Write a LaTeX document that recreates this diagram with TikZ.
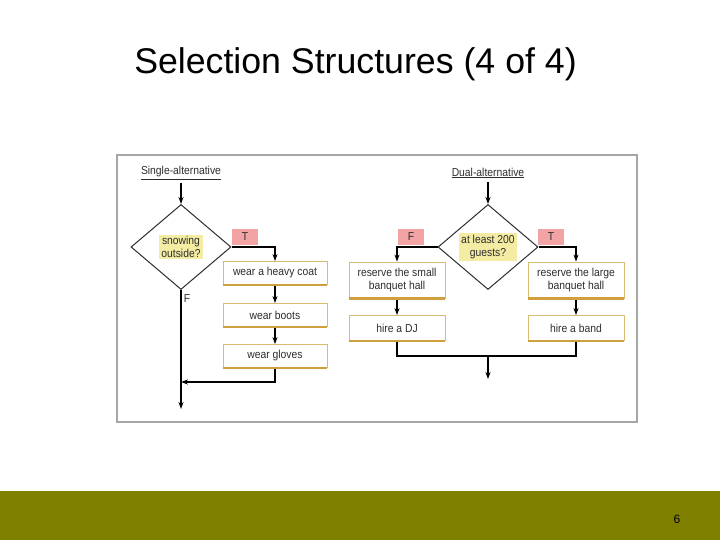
\documentclass[tikz,border=0pt]{standalone}
\usepackage{fontspec}
\setmainfont{Liberation Sans}
\newfontfamily\chartfont[FakeStretch=0.9]{Liberation Sans}
\usetikzlibrary{shapes.geometric, arrows.meta, positioning, calc}
\definecolor{slideOlive}{HTML}{808000}
\definecolor{frameGray}{HTML}{A6A6A6}
\definecolor{boxEdge}{HTML}{D8BC74}
\definecolor{boxFoot}{HTML}{CF9F3E}
\definecolor{condYellow}{HTML}{F4ECA2}
\definecolor{tfPink}{HTML}{F2A3A3}
\definecolor{inkGray}{HTML}{2E2E2E}

\begin{document}
\begin{tikzpicture}[x=1pt, y=-1pt,
  every node/.style={font=\chartfont\fontsize{11.5}{12.5}\selectfont, text=inkGray},
  act/.style={draw=boxEdge, line width=0.8pt, fill=white, align=center,
    minimum width=104pt, minimum height=23pt, inner sep=1pt},
  wideact/.style={act, minimum width=96pt, minimum height=36pt},
  slimact/.style={act, minimum width=96pt, minimum height=25pt},
  cond/.style={diamond, draw=inkGray, line width=1pt, minimum width=100pt,
    minimum height=85pt, inner sep=0pt},
  condtxt/.style={fill=condYellow, align=center, inner sep=2pt},
  tflab/.style={fill=tfPink, minimum width=26pt, minimum height=16pt, inner sep=0pt},
  arr/.style={draw=black, line width=1.2pt, -{Stealth[length=7pt, width=5pt]}},
  ln/.style={draw=black, line width=1.2pt}]

  \useasboundingbox (0,0) rectangle (720,540);

  % slide
  \node[font=\fontsize{35.7}{41}\selectfont, text=black] (title) at (355.5,64)
    {Selection Structures (4 of 4)};
  \fill[slideOlive] (0,491) rectangle (720,540);
  \node[font=\fontsize{12}{14}\selectfont, text=black] (pagenum) at (677,519) {6};
  \draw[frameGray, line width=2.5pt, fill=white] (117,155) rectangle (637,422);

  % single-alternative
  \node (h1) at (181,173) {\underline{Single-alternative}};
  \node[cond] (q1) at (181,247) {};
  \node[condtxt] (q1txt) at (q1) {snowing\\outside?};
  \node[tflab] (t1) at (245,237) {T};
  \node (f1) at (187,299) {F};
  \node[act] (coat) at (275,273) {wear a heavy coat};
  \node[act] (boots) at (275,315) {wear boots};
  \node[act] (gloves) at (275,356) {wear gloves};
  \coordinate (join1) at (181,382);
  \coordinate (end1) at (181,409);

  \draw[arr] (h1) -- (q1.north);
  \draw[arr] (q1.east) -| (coat.north);
  \draw[arr] (coat) -- (boots);
  \draw[arr] (boots) -- (gloves);
  \draw[arr] (gloves.south) |- (join1);
  \draw[arr] (q1.south) -- (end1);

  % dual-alternative
  \node (h2) at (488,173) {\underline{Dual-alternative}};
  \node[cond] (q2) at (488,247) {};
  \node[condtxt] (q2txt) at (q2) {at least 200\\guests?};
  \node[tflab] (f2) at (411,237) {F};
  \node[tflab] (t2) at (551,237) {T};
  \node[wideact] (small) at (397,280) {reserve the small\\banquet hall};
  \node[wideact] (large) at (576,280) {reserve the large\\banquet hall};
  \node[slimact] (dj) at (397,328) {hire a DJ};
  \node[slimact] (band) at (576,328) {hire a band};
  \coordinate (merge2) at (488,356);
  \coordinate (end2) at (488,379);

  \draw[arr] (h2) -- (q2.north);
  \draw[arr] (q2.west) -| (small.north);
  \draw[arr] (q2.east) -| (large.north);
  \draw[arr] (small) -- (dj);
  \draw[arr] (large) -- (band);
  \draw[ln] (dj.south) |- (merge2) -| (band.south);
  \draw[arr] (merge2) -- (end2);

  % heavier bottom edge on every action box
  \foreach \b in {coat, boots, gloves, small, large, dj, band}
    \draw[boxFoot, line width=2.2pt] (\b.south west) -- (\b.south east);
\end{tikzpicture}
\end{document}
